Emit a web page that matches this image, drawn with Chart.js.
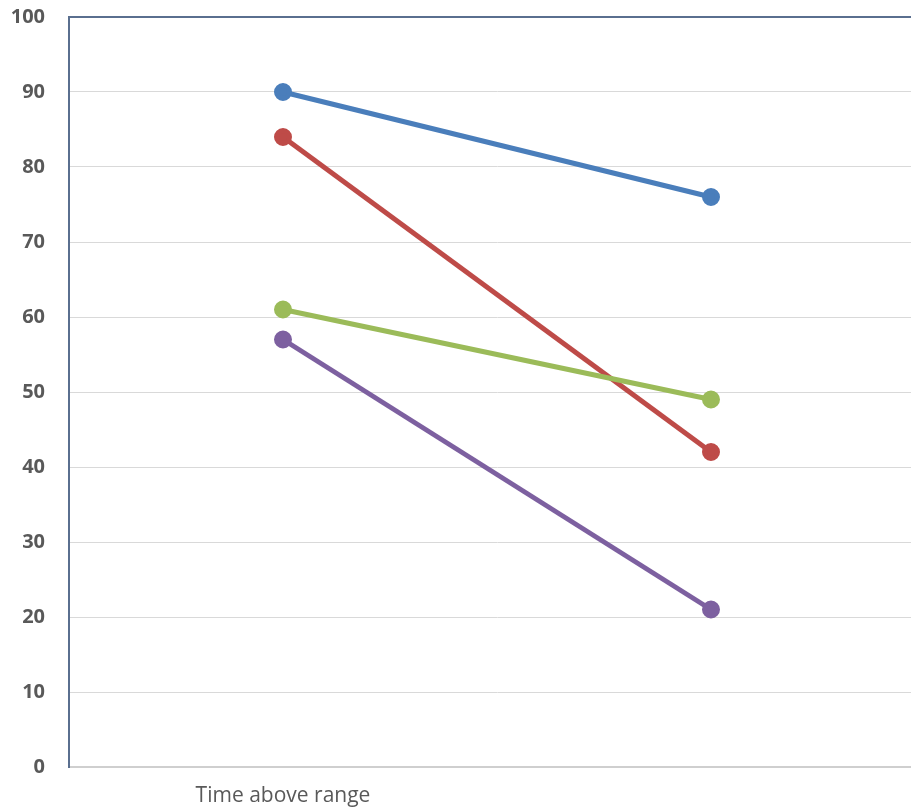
<!DOCTYPE html>
<html>
<head>
<meta charset="utf-8">
<script src="https://cdn.jsdelivr.net/npm/chart.js@4/dist/chart.umd.min.js"></script>
<style>
  html, body { margin: 0; padding: 0; background: #ffffff; overflow: hidden; }
  #wrap { position: relative; width: 940px; height: 808px; }
</style>
</head>
<body>
<div id="wrap"><canvas id="chart"></canvas></div>
<script>
// Categories along the x axis (second one is unlabelled)
const categories = ["Time above range", ""];

// Series values, one array per line
const seriesBlue   = [90, 76];
const seriesRed    = [84, 42];
const seriesGreen  = [61, 49];
const seriesPurple = [57, 21];

// Y axis range and tick step
const yMin = 0;
const yMax = 100;
const yStep = 10;

const AXIS_SLATE = '#5a6f8f';
const GRID_GREY = '#d9d9d9';
const BASE_GREY = '#cfcfcf';

function lineSet(data, color, order) {
  return {
    data: data,
    borderColor: color,
    backgroundColor: color,
    pointBackgroundColor: color,
    pointBorderColor: color,
    borderWidth: 5,
    pointRadius: 6.5,
    pointHoverRadius: 6.5,
    fill: false,
    tension: 0,
    order: order
  };
}

new Chart(document.getElementById('chart'), {
  type: 'line',
  data: {
    labels: categories,
    datasets: [
      lineSet(seriesBlue,   '#4a7ebb', 4),
      lineSet(seriesRed,    '#be4b48', 3),
      lineSet(seriesGreen,  '#9bbb59', 2),
      lineSet(seriesPurple, '#7d60a0', 1)
    ]
  },
  options: {
    responsive: true,
    maintainAspectRatio: false,
    animation: false,
    layout: { padding: { left: 0, right: 15, top: 17, bottom: 0 } },
    plugins: {
      legend: { display: false },
      tooltip: { enabled: false }
    },
    scales: {
      x: {
        offset: true,
        grid: { display: false, drawTicks: false },
        border: { display: false },
        ticks: {
          color: '#595959',
          padding: 16,
          maxRotation: 0,
          font: { family: 'Open Sans', size: 21 }
        },
        afterFit: (s) => { s.height = 41; s.paddingLeft = 0; s.paddingRight = 0; }
      },
      y: {
        min: yMin,
        max: yMax,
        grid: {
          drawTicks: false,
          color: (ctx) => ctx.tick && ctx.tick.value === yMax ? AXIS_SLATE
                        : (ctx.tick && ctx.tick.value === yMin ? BASE_GREY : GRID_GREY),
          lineWidth: (ctx) => ctx.tick && (ctx.tick.value === yMax || ctx.tick.value === yMin) ? 2 : 1
        },
        border: { display: true, color: AXIS_SLATE, width: 2 },
        ticks: {
          stepSize: yStep,
          color: '#595959',
          padding: 24,
          font: { family: 'Open Sans', size: 20, weight: 'bold' }
        },
        afterFit: (s) => { s.width = 69; s.paddingTop = 0; s.paddingBottom = 0; }
      }
    }
  }
});
</script>
</body>
</html>
